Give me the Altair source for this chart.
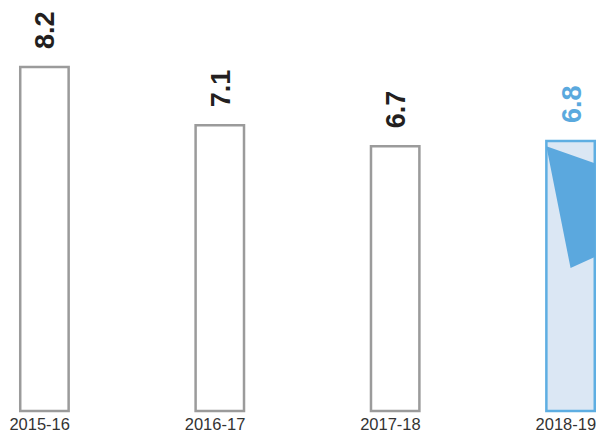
import altair as alt
import pandas as pd

periods = ["2015-16", "2016-17", "2017-18", "2018-19"]
values = [8.2, 7.1, 6.7, 6.8]
highlight = [False, False, False, True]

# decorative wedge inside the last bar (x in period-index units, y in value units)
wedge_x = [2.862, 3.0, 3.138]
wedge_top = [6.70, 6.54, 6.38]
wedge_bottom = [6.70, 4.40, 4.61]

half = 0.138
df = pd.DataFrame({
    "idx": list(range(len(periods))),
    "period": periods,
    "value": values,
    "hl": highlight,
})
df["x0"] = df["idx"] - half
df["x1"] = df["idx"] + half
df["label"] = [f"{v:.1f}" for v in values]

wedge = pd.DataFrame({"wx": wedge_x, "wt": wedge_top, "wb": wedge_bottom})

YMIN, YMAX = 1.697, 9.088
xscale = alt.Scale(domain=[-0.145, 3.145], nice=False, zero=False)
yscale = alt.Scale(domain=[YMIN, YMAX], nice=False, zero=False)

shift = 0.03
label_expr = "[" + ",".join(f"'{p}'" for p in periods) + "][round(datum.value)]"

bars = alt.Chart(df).mark_bar(strokeWidth=2.5, clip=False).encode(
    x=alt.X("x0:Q", scale=xscale, axis=alt.Axis(
        values=[i - shift for i in range(len(periods))], labelExpr=label_expr,
        title=None, grid=False, domain=False, ticks=False, labelFontSize=16.5,
        labelColor="#333333", labelFont="Liberation Sans", labelPadding=5,
        labelFlush=False, labelOverlap=False, labelBound=False)),
    x2="x1:Q",
    y=alt.Y("value:Q", scale=yscale, axis=None),
    y2=alt.datum(YMIN),
    fill=alt.condition("datum.hl", alt.value("#dbe7f4"), alt.value("#ffffff")),
    stroke=alt.condition("datum.hl", alt.value("#5eaee2"), alt.value("#9b9b9b")),
)

wedge_layer = alt.Chart(wedge).mark_area(color="#5ba8de", opacity=1).encode(
    x=alt.X("wx:Q", scale=xscale),
    y=alt.Y("wt:Q", scale=yscale),
    y2="wb:Q",
)

texts = alt.Chart(df).mark_text(
    angle=270, align="left", baseline="middle", dx=18, dy=2,
    fontSize=27, fontWeight="bold", font="Liberation Sans",
).encode(
    x=alt.X("idx:Q", scale=xscale),
    y=alt.Y("value:Q", scale=yscale),
    text="label:N",
    color=alt.condition("datum.hl", alt.value("#5aa9de"), alt.value("#231f20")),
)

chart = alt.layer(bars, wedge_layer, texts).properties(
    width=577, height=391,
    autosize=alt.AutoSizeParams(type="none"),
    padding={"left": 11, "top": 12, "right": 0, "bottom": 22},
).configure_view(stroke=None)

chart.save("out.html", embed_options={"renderer": "svg", "actions": False})
